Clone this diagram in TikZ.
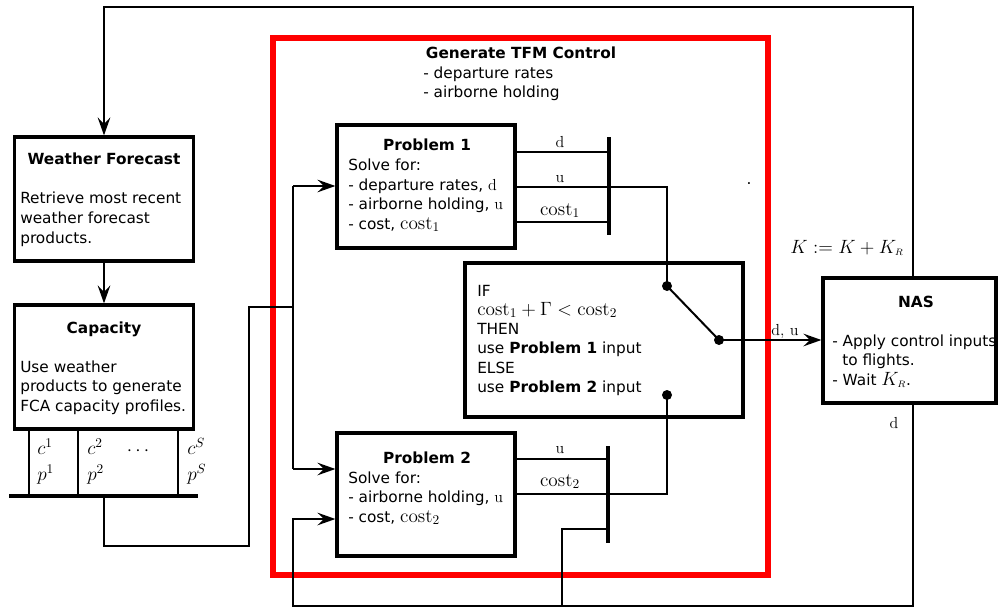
\documentclass[tikz,border=0pt]{standalone}
\usepackage[no-math]{fontspec}
\setmainfont{DejaVu Sans}
\usetikzlibrary{arrows.meta}
\newcommand\mfs{\fontsize{14.5}{15}\selectfont}
\newcommand\tfs{\fontsize{11.5}{15}\selectfont}
\tikzset{
  box/.style={draw, line width=2.4pt, inner sep=0pt},
  sz/.style 2 args={minimum width=#1*0.75pt, minimum height=#2*0.75pt},
  wire/.style={line width=1.5pt},
  busbar/.style={line width=3.4pt},
  arr/.style={wire, -{Stealth[length=13.5pt,width=9.5pt,inset=5pt]}},
  txt/.style={anchor=base west, inner sep=0pt},
  ttl/.style={anchor=base, inner sep=0pt, font=\tfs\bfseries},
  lab/.style={anchor=base, inner sep=0pt},
  dot/.style={circle, fill=black, inner sep=0pt, minimum size=7.5pt},
  frame/.style={draw=red, line width=4pt, inner sep=0pt}
}
\begin{document}
\begin{tikzpicture}[x=0.75pt,y=-0.75pt,font=\tfs]
\useasboundingbox (0,0) rectangle (998,610);
% frame
\node[frame, sz={495}{537}] (tfm) at (520.5,306.5) {};
% boxes
\node[box, sz={179}{124}] (wf) at (104,199) {};
\node[box, sz={179}{124}] (cap) at (104,367) {};
\node[box, sz={178}{123}] (p1) at (426,186.5) {};
\node[box, sz={178}{123}] (p2) at (426,494.5) {};
\node[box, sz={278}{154}] (sw) at (604,340) {};
\node[box, sz={173}{125}] (nas) at (909.5,340.5) {};
% coordinates
\coordinate (fbx) at (913,0);
\coordinate (topR) at (913,7);
\coordinate (topL) at (104,7);
\coordinate (botR) at (913,606);
\coordinate (botL) at (293,606);
\coordinate (botM) at (562,606);
\coordinate (busL) at (9,496);
\coordinate (busR) at (198,496);
\coordinate (k1) at (29,496);
\coordinate (k2) at (78,496);
\coordinate (k3) at (178,496);
\coordinate (bo) at (104,496);
\coordinate (bo2) at (104,546);
\coordinate (bo3) at (249,546);
\coordinate (bo4) at (249,307);
\coordinate (jm) at (293,307);
\coordinate (j1) at (293,186);
\coordinate (j2) at (293,469);
\coordinate (j3) at (293,519);
\coordinate (barA) at (609,137);
\coordinate (barB) at (609,235);
\coordinate (barC) at (608,446);
\coordinate (barD) at (608,543);
\coordinate (yd1) at (0,152);
\coordinate (yu1) at (0,187);
\coordinate (yc1) at (0,222);
\coordinate (yu2) at (0,459);
\coordinate (yc2) at (0,494);
\coordinate (yd2) at (562,529);
\node[dot] (sa) at (667,286) {};
\node[dot] (sb) at (667,395) {};
\node[dot] (sp) at (719,340) {};
% connectors
\draw[arr] (nas.north -| fbx) -- (topR) -- (topL) -- (wf.north);
\draw[arr] (wf.south) -- (cap.north);
\draw[wire] (k1 |- cap.south) -- (k1);
\draw[wire] (k2 |- cap.south) -- (k2);
\draw[wire] (k3 |- cap.south) -- (k3);
\draw[busbar] (busL) -- (busR);
\draw[wire] (bo) -- (bo2) -- (bo3) -- (bo4) -- (jm);
\draw[wire] (j1) -- (j2);
\draw[arr] (j1) -- (j1 -| p1.west);
\draw[arr] (j2) -- (j2 -| p2.west);
\draw[arr] (nas.south -| fbx) -- (botR) -- (botL) -- (j3) -- (j3 -| p2.west);
\draw[wire] (botM) -- (yd2) -- (yd2 -| barC);
\draw[busbar] (barA) -- (barB);
\draw[busbar] (barC) -- (barD);
\draw[wire] (yd1 -| p1.east) -- (yd1 -| barA);
\draw[wire] (yu1 -| p1.east) -- (yu1 -| sa) -- (sa.center);
\draw[wire] (yc1 -| p1.east) -- (yc1 -| barA);
\draw[wire] (yu2 -| p2.east) -- (yu2 -| barC);
\draw[wire] (yc2 -| p2.east) -- (yc2 -| sb) -- (sb.center);
\draw[wire] (sa.center) -- (sp.center);
\draw[arr] (sp.center) -- (sp -| nas.west);
% texts
\node[ttl] (wft) at (104,164) {Weather Forecast};
\node[txt] (wf1) at (20,203) {Retrieve most recent};
\node[txt] (wf2) at (20,223) {weather forecast};
\node[txt] (wf3) at (20,243) {products.};
\node[ttl] (capt) at (104,333) {Capacity};
\node[txt] (cap1) at (20,372) {Use weather};
\node[txt] (cap2) at (20,391) {products to generate};
\node[txt] (cap3) at (20,411) {FCA capacity profiles.};
\node[txt,font=\mfs] (c1l) at (37,454) {$c^1$};
\node[txt,font=\mfs] (p1l) at (37,480) {$p^1$};
\node[txt,font=\mfs] (c2l) at (87,454) {$c^2$};
\node[txt,font=\mfs] (p2l) at (87,480) {$p^2$};
\node[lab,font=\mfs] (cdl) at (138,455) {$\cdots$};
\node[txt,font=\mfs] (cSl) at (187,454) {$c^S$};
\node[txt,font=\mfs] (pSl) at (187,480) {$p^S$};
\node[ttl] (tfmt) at (521,59) {Generate TFM Control};
\node[txt] (tfm1) at (423,79) {- departure rates};
\node[txt] (tfm2) at (423,98) {- airborne holding};
\node[ttl] (p1t) at (427,150) {Problem 1};
\node[txt] (p1a) at (348,170) {Solve for:};
\node[txt] (p1b) at (348,190) {- departure rates, $\mathrm{d}$};
\node[txt] (p1c) at (348,209) {- airborne holding, $\mathrm{u}$};
\node[txt] (p1d) at (348,229) {- cost, {\mfs$\mathrm{cost}_1$}};
\node[ttl] (p2t) at (427,463) {Problem 2};
\node[txt] (p2a) at (348,483) {Solve for:};
\node[txt] (p2b) at (348,502) {- airborne holding, $\mathrm{u}$};
\node[txt] (p2c) at (348,522) {- cost, {\mfs$\mathrm{cost}_2$}};
\node[txt] (sw1) at (477,296) {IF};
\node[txt,font=\mfs] (sw2) at (477,315) {$\mathrm{cost}_1+\Gamma<\mathrm{cost}_2$};
\node[txt] (sw3) at (477,334) {THEN};
\node[txt] (sw4) at (477,353) {use \textbf{Problem 1} input};
\node[txt] (sw5) at (477,373) {ELSE};
\node[txt] (sw6) at (477,392) {use \textbf{Problem 2} input};
\node[ttl] (nast) at (916,307) {NAS};
\node[txt] (nas1) at (832,346) {- Apply control inputs};
\node[txt] (nas2) at (842,365) {to flights.};
\node[txt] (nas3) at (832,385) {- Wait {\mfs$K_{\scriptscriptstyle R}$}.};
\node[lab] (ld1) at (560,147) {$\mathrm{d}$};
\node[lab] (lu1) at (560,182) {$\mathrm{u}$};
\node[lab,font=\mfs] (lc1) at (560,215) {$\mathrm{cost}_1$};
\node[lab] (lu2) at (560,453) {$\mathrm{u}$};
\node[lab,font=\mfs] (lc2) at (560,486) {$\mathrm{cost}_2$};
\node[lab] (ldu) at (785,335) {$\mathrm{d},\,\mathrm{u}$};
\node[lab,font=\mfs] (lk) at (847,253) {$K:=K+K_{\scriptscriptstyle R}$};
\node[lab] (ld3) at (894,428) {$\mathrm{d}$};
\node[lab] (stray) at (749,184) {.};
\end{tikzpicture}
\end{document}
